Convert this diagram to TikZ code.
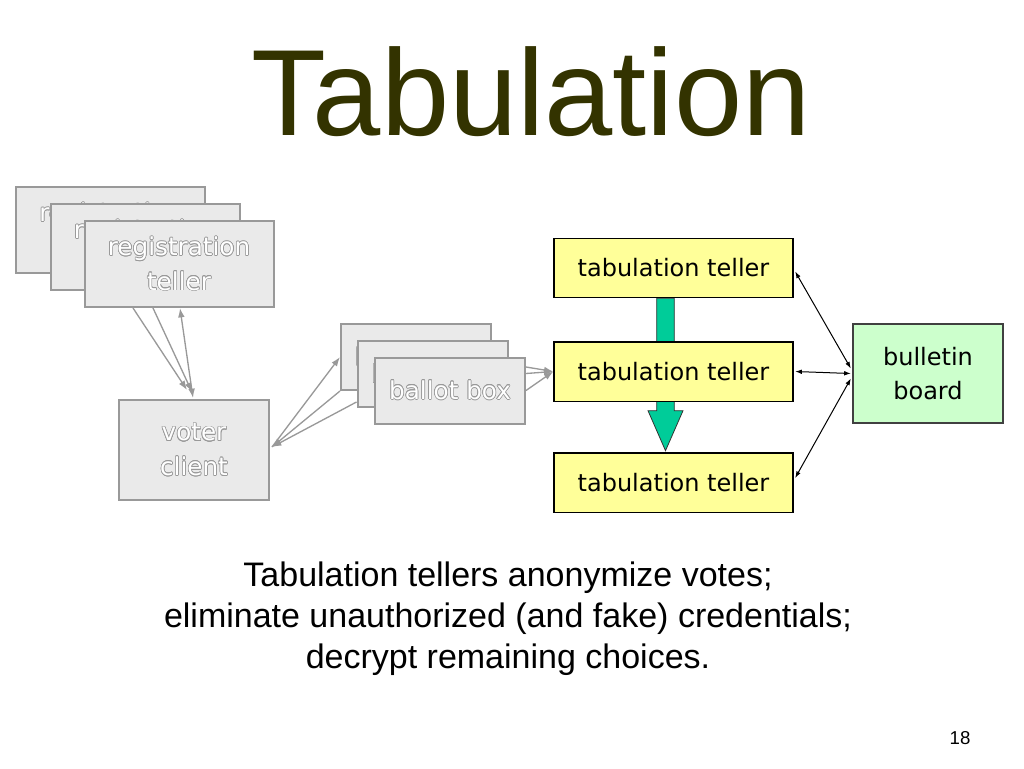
\documentclass[tikz,border=0pt]{standalone}
\usepackage{fontspec}
\setmainfont{Liberation Sans}
\newfontfamily\boxfont{DejaVu Sans}
\usepackage{contour}
\contourlength{0.45pt}
\usetikzlibrary{arrows.meta,calc,backgrounds}
\definecolor{titleolive}{RGB}{51,51,0}
\definecolor{tellyellow}{RGB}{255,255,153}
\definecolor{boardgreen}{RGB}{204,255,204}
\definecolor{flowgreen}{RGB}{0,204,153}
\definecolor{ghostfill}{RGB}{234,234,234}
\definecolor{ghostline}{RGB}{153,153,153}
\newcommand{\emboss}[1]{\contour{ghostline}{#1}}
\begin{document}
\begin{tikzpicture}[x=0.75pt,y=-0.75pt,
	ghost/.style={draw=ghostline,fill=ghostfill,line width=1.5pt,text=white,align=center,inner sep=0pt,font=\boxfont\fontsize{18.5}{26}\selectfont},
	regbox/.style={ghost,minimum width=141.75pt,minimum height=64.5pt},
	voterbox/.style={ghost,minimum width=112.5pt,minimum height=75pt},
	ballotbox/.style={ghost,minimum width=112.5pt,minimum height=49.5pt},
	teller/.style={draw=black,fill=tellyellow,line width=1pt,minimum width=179.25pt,minimum height=44.5pt,inner sep=0pt,font=\boxfont\fontsize{18}{26}\selectfont},
	board/.style={draw=black!75,fill=boardgreen,line width=1pt,minimum width=112.5pt,minimum height=74.25pt,inner sep=0pt,align=center,font=\boxfont\fontsize{18}{25.5}\selectfont},
	ghostarrow/.style={draw=ghostline,line width=1pt,-{Latex[length=7pt,width=5pt]}},
	postarrow/.style={draw=black,line width=0.75pt,{Latex[length=5pt,width=3.5pt]}-{Latex[length=5pt,width=3.5pt]}}]
	\useasboundingbox (0,0) rectangle (1024,768);
	\node[font=\fontsize{92}{100}\selectfont,text=titleolive,anchor=base] (title) at (531,135) {Tabulation};
	\node[regbox] (reg1) at (110.5,230) {\emboss{registration}\\\emboss{teller}};
	\node[regbox] (reg2) at (145,247) {\emboss{registration}\\\emboss{teller}};
	\node[regbox] (reg3) at (179,264) {\emboss{registration}\\\emboss{teller}};
	\node[voterbox] (voter) at (194,450) {\emboss{voter}\\\emboss{client}};
	\node[ballotbox] (bb1) at (416,357) {\emboss{ballot box}};
	\node[ballotbox] (bb2) at (432.5,374) {\emboss{ballot box}};
	\node[ballotbox] (bb3) at (450,390.5) {\emboss{ballot box}};
	\node[teller] (tt1) at (673.5,268) {tabulation teller};
	\node[teller] (tt2) at (673.5,371.5) {tabulation teller};
	\node[teller] (tt3) at (673.5,482.5) {tabulation teller};
	\node[board] (bboard) at (928,373.5) {bulletin\\board};
	\coordinate (gtop) at ($(tt1.south)+(-8,0)$);
	\coordinate (gtip) at ($(tt3.north)+(-8,-1.5)$);
	\begin{scope}[on background layer]
	\filldraw[fill=flowgreen,draw=black!80,line width=0.6pt] ($(gtop)+(-8.8,0)$) -- ($(gtip)+(-8.8,-40)$) -- ($(gtip)+(-17.5,-40)$) -- (gtip) -- ($(gtip)+(17.5,-40)$) -- ($(gtip)+(8.8,-40)$) -- ($(gtop)+(8.8,0)$) -- cycle;
	\end{scope}
	\draw[ghostarrow] ($(reg3.south)+(-46,0)$) -- ($(voter.north)+(-7,-9)$);
	\draw[ghostarrow] ($(reg3.south)+(-26,0)$) -- ($(voter.north)+(-2,-7)$);
	\draw[ghostarrow,{Latex[length=7pt,width=5pt]}-{Latex[length=7pt,width=5pt]}] ($(reg3.south)+(1,0)$) -- ($(voter.north)+(-1,-1)$);
	\draw[ghostarrow] ($(voter.east)+(2,-3)$) -- (bb1.west);
	\draw[ghostarrow] (bb1.south west) -- ($(voter.east)+(2,-3)$);
	\draw[ghostarrow] ($(bb2.south west)+(0,-6)$) -- ($(voter.east)+(2,-3)$);
	\draw[ghostarrow] ($(bb3.east)+(0,-23.5)$) -- (tt2.west);
	\draw[ghostarrow] ($(bb3.east)+(0,-17)$) -- (tt2.west);
	\draw[ghostarrow] (bb3.east) -- (tt2.west);
	\draw[postarrow] ($(tt1.east)+(1.5,3.5)$) -- ($(bboard.west)+(-1.5,-5)$);
	\draw[postarrow] ($(tt2.east)+(1.5,0)$) -- ($(bboard.west)+(-1.5,0)$);
	\draw[postarrow] ($(tt3.east)+(1.5,-4.5)$) -- ($(bboard.west)+(-1.5,5)$);
	\node[font=\fontsize{25.5}{30.75}\selectfont,align=center] (caption) at (508,619) {Tabulation tellers anonymize votes;\\eliminate unauthorized (and fake) credentials;\\decrypt remaining choices.};
	\node[font=\fontsize{14}{16}\selectfont] (pageno) at (960,738) {18};
\end{tikzpicture}
\end{document}
